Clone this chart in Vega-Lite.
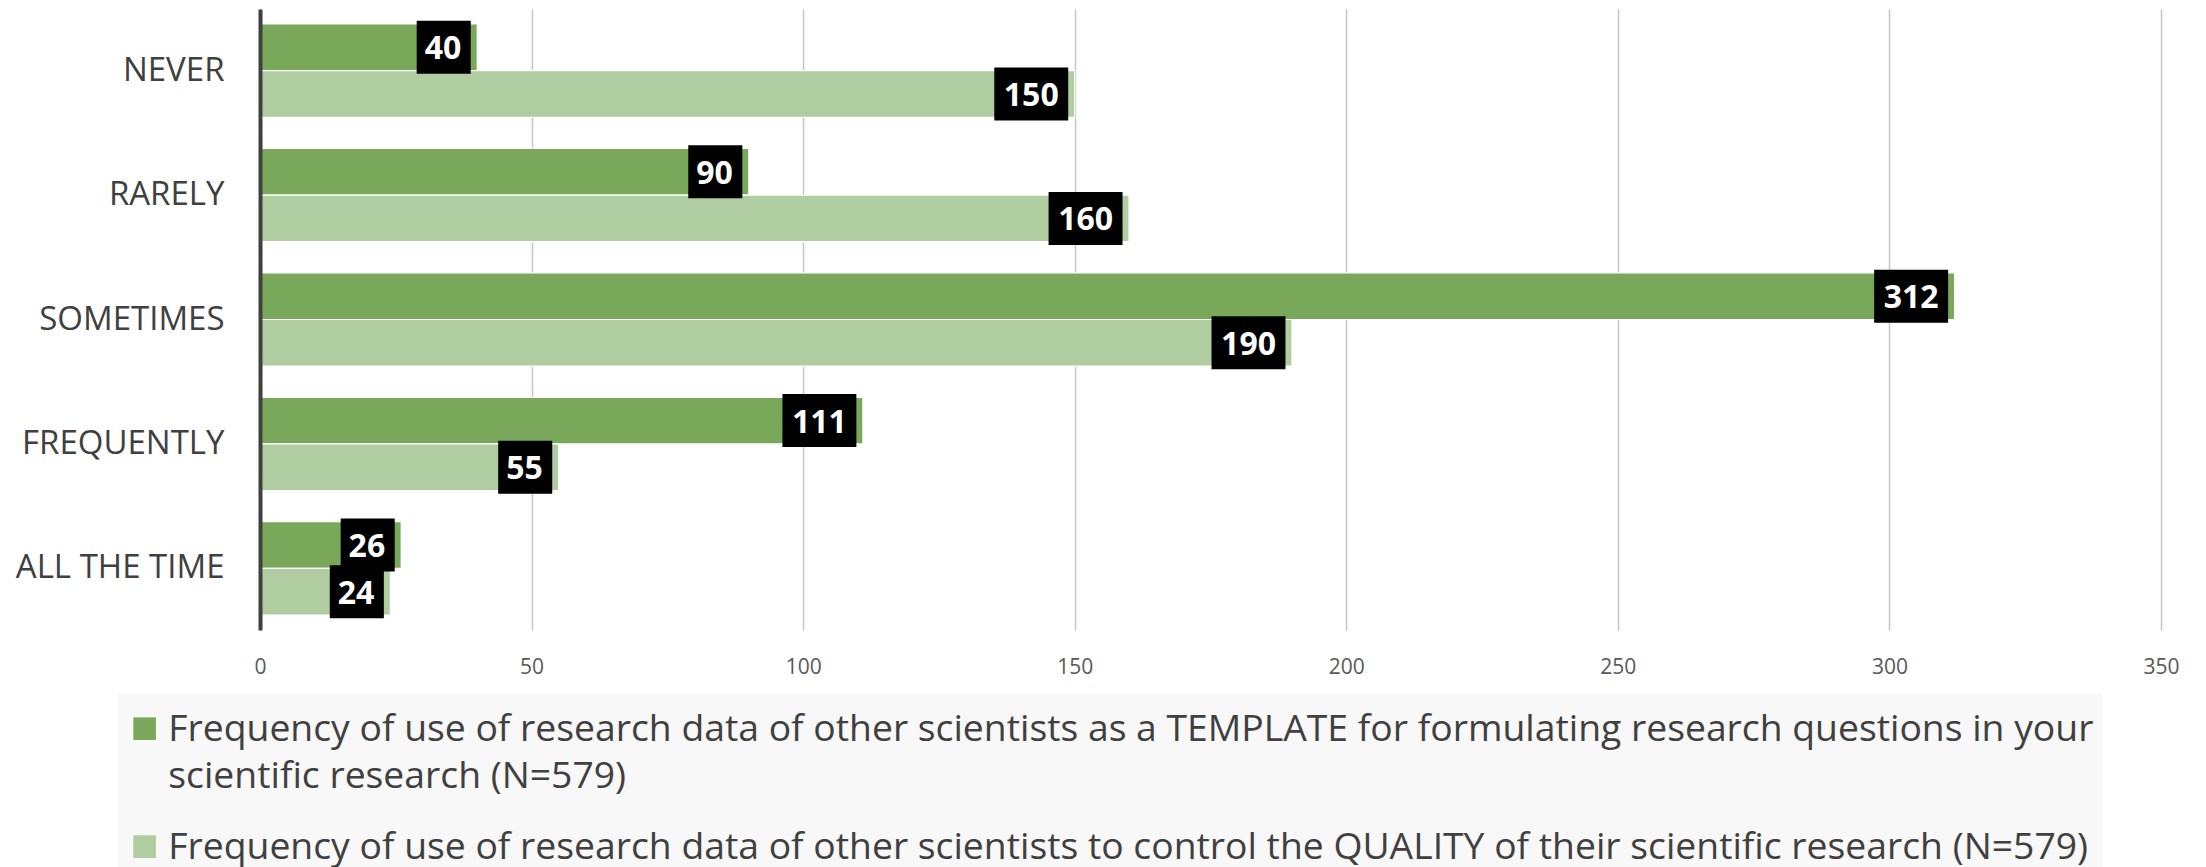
{
  "$schema": "https://vega.github.io/schema/vega-lite/v6.json",
  "width": 1901,
  "height": 621,
  "autosize": {"type": "none"},
  "padding": {"left": 260, "top": 9, "right": 45, "bottom": 237},
  "background": "white",
  "config": {
    "font": "Open Sans",
    "view": {"stroke": null},
    "style": {"guide-label": {"lineHeight": 47}}
  },
  "data": {
    "values": [
      {"answer": "NEVER", "series": "Frequency of use of research data of other scientists as a TEMPLATE for formulating research questions in your scientific research (N=579)", "value": 40},
      {"answer": "NEVER", "series": "Frequency of use of research data of other scientists to control the QUALITY of their scientific research (N=579)", "value": 150},
      {"answer": "RARELY", "series": "Frequency of use of research data of other scientists as a TEMPLATE for formulating research questions in your scientific research (N=579)", "value": 90},
      {"answer": "RARELY", "series": "Frequency of use of research data of other scientists to control the QUALITY of their scientific research (N=579)", "value": 160},
      {"answer": "SOMETIMES", "series": "Frequency of use of research data of other scientists as a TEMPLATE for formulating research questions in your scientific research (N=579)", "value": 312},
      {"answer": "SOMETIMES", "series": "Frequency of use of research data of other scientists to control the QUALITY of their scientific research (N=579)", "value": 190},
      {"answer": "FREQUENTLY", "series": "Frequency of use of research data of other scientists as a TEMPLATE for formulating research questions in your scientific research (N=579)", "value": 111},
      {"answer": "FREQUENTLY", "series": "Frequency of use of research data of other scientists to control the QUALITY of their scientific research (N=579)", "value": 55},
      {"answer": "ALL THE TIME", "series": "Frequency of use of research data of other scientists as a TEMPLATE for formulating research questions in your scientific research (N=579)", "value": 26},
      {"answer": "ALL THE TIME", "series": "Frequency of use of research data of other scientists to control the QUALITY of their scientific research (N=579)", "value": 24}
    ]
  },
  "encoding": {
    "y": {
      "field": "answer",
      "type": "nominal",
      "sort": ["NEVER", "RARELY", "SOMETIMES", "FREQUENTLY", "ALL THE TIME"],
      "scale": {"paddingInner": 0.25, "paddingOuter": 0.12},
      "axis": {
        "title": null,
        "ticks": false,
        "domain": true,
        "domainColor": "#404040",
        "domainWidth": 4,
        "zindex": 1,
        "labelFont": "Open Sans",
        "labelFontSize": 33,
        "labelColor": "#404040",
        "labelPadding": 36,
        "labelLimit": 400
      }
    },
    "yOffset": {
      "field": "series",
      "type": "nominal",
      "sort": [
        "Frequency of use of research data of other scientists as a TEMPLATE for formulating research questions in your scientific research (N=579)",
        "Frequency of use of research data of other scientists to control the QUALITY of their scientific research (N=579)"
      ],
      "scale": {"paddingInner": 0, "paddingOuter": 0}
    },
    "x": {
      "field": "value",
      "type": "quantitative",
      "scale": {"domain": [0, 350], "nice": false},
      "axis": {
        "title": null,
        "values": [0, 50, 100, 150, 200, 250, 300, 350],
        "ticks": false,
        "domain": false,
        "grid": true,
        "gridColor": "#c6c6c6",
        "gridWidth": 1.5,
        "labelFont": "Open Sans",
        "labelFontSize": 21,
        "labelColor": "#595959",
        "labelPadding": 26,
        "labelFlush": false
      }
    }
  },
  "layer": [
    {
      "mark": {"type": "bar", "stroke": "#ffffff", "strokeWidth": 1.2},
      "encoding": {
        "color": {
          "field": "series",
          "type": "nominal",
          "scale": {
            "domain": [
              "Frequency of use of research data of other scientists as a TEMPLATE for formulating research questions in your scientific research (N=579)",
              "Frequency of use of research data of other scientists to control the QUALITY of their scientific research (N=579)"
            ],
            "range": ["#79a85a", "#b0cda1"]
          },
          "legend": {
            "title": " ",
            "titleFontSize": 2,
            "titlePadding": 18,
            "orient": "none",
            "legendX": -142,
            "legendY": 685,
            "direction": "vertical",
            "fillColor": "#f8f8f8",
            "padding": 8,
            "labelFont": "Open Sans",
            "labelFontSize": 37.3,
            "labelColor": "#404040",
            "labelLimit": 2100,
            "labelOffset": 5,
            "labelBaseline": "alphabetic",
            "symbolType": "M-1,-2.06H1V-0.06H-1Z",
            "symbolSize": 511,
            "symbolStrokeWidth": 0,
            "symbolOpacity": 1,
            "rowPadding": 33,
            "labelExpr": "indexof(datum.label, 'TEMPLATE') >= 0 ? [slice(datum.label, 0, indexof(datum.label, ' scientific research')), slice(datum.label, indexof(datum.label, ' scientific research') + 1)] : datum.label",
            "encode": {
              "labels": {"enter": {"lineHeight": {"value": 47}}}
            }
          }
        }
      }
    },
    {
      "mark": {"type": "point", "filled": true, "color": "#000000", "opacity": 1, "strokeWidth": 0, "size": 2809, "xOffset": -6.5},
      "encoding": {
        "shape": {
          "condition": {"test": "datum.value >= 100", "value": "M-2.79,-1H0V1H-2.79Z"},
          "value": "M-2.04,-1H0V1H-2.04Z"
        }
      }
    },
    {
      "mark": {"type": "text", "align": "right", "baseline": "middle", "dx": -16, "dy": 2, "font": "Open Sans", "fontWeight": "bold", "fontSize": 32, "color": "#ffffff"},
      "encoding": {
        "text": {"field": "value", "type": "quantitative"}
      }
    }
  ]
}
